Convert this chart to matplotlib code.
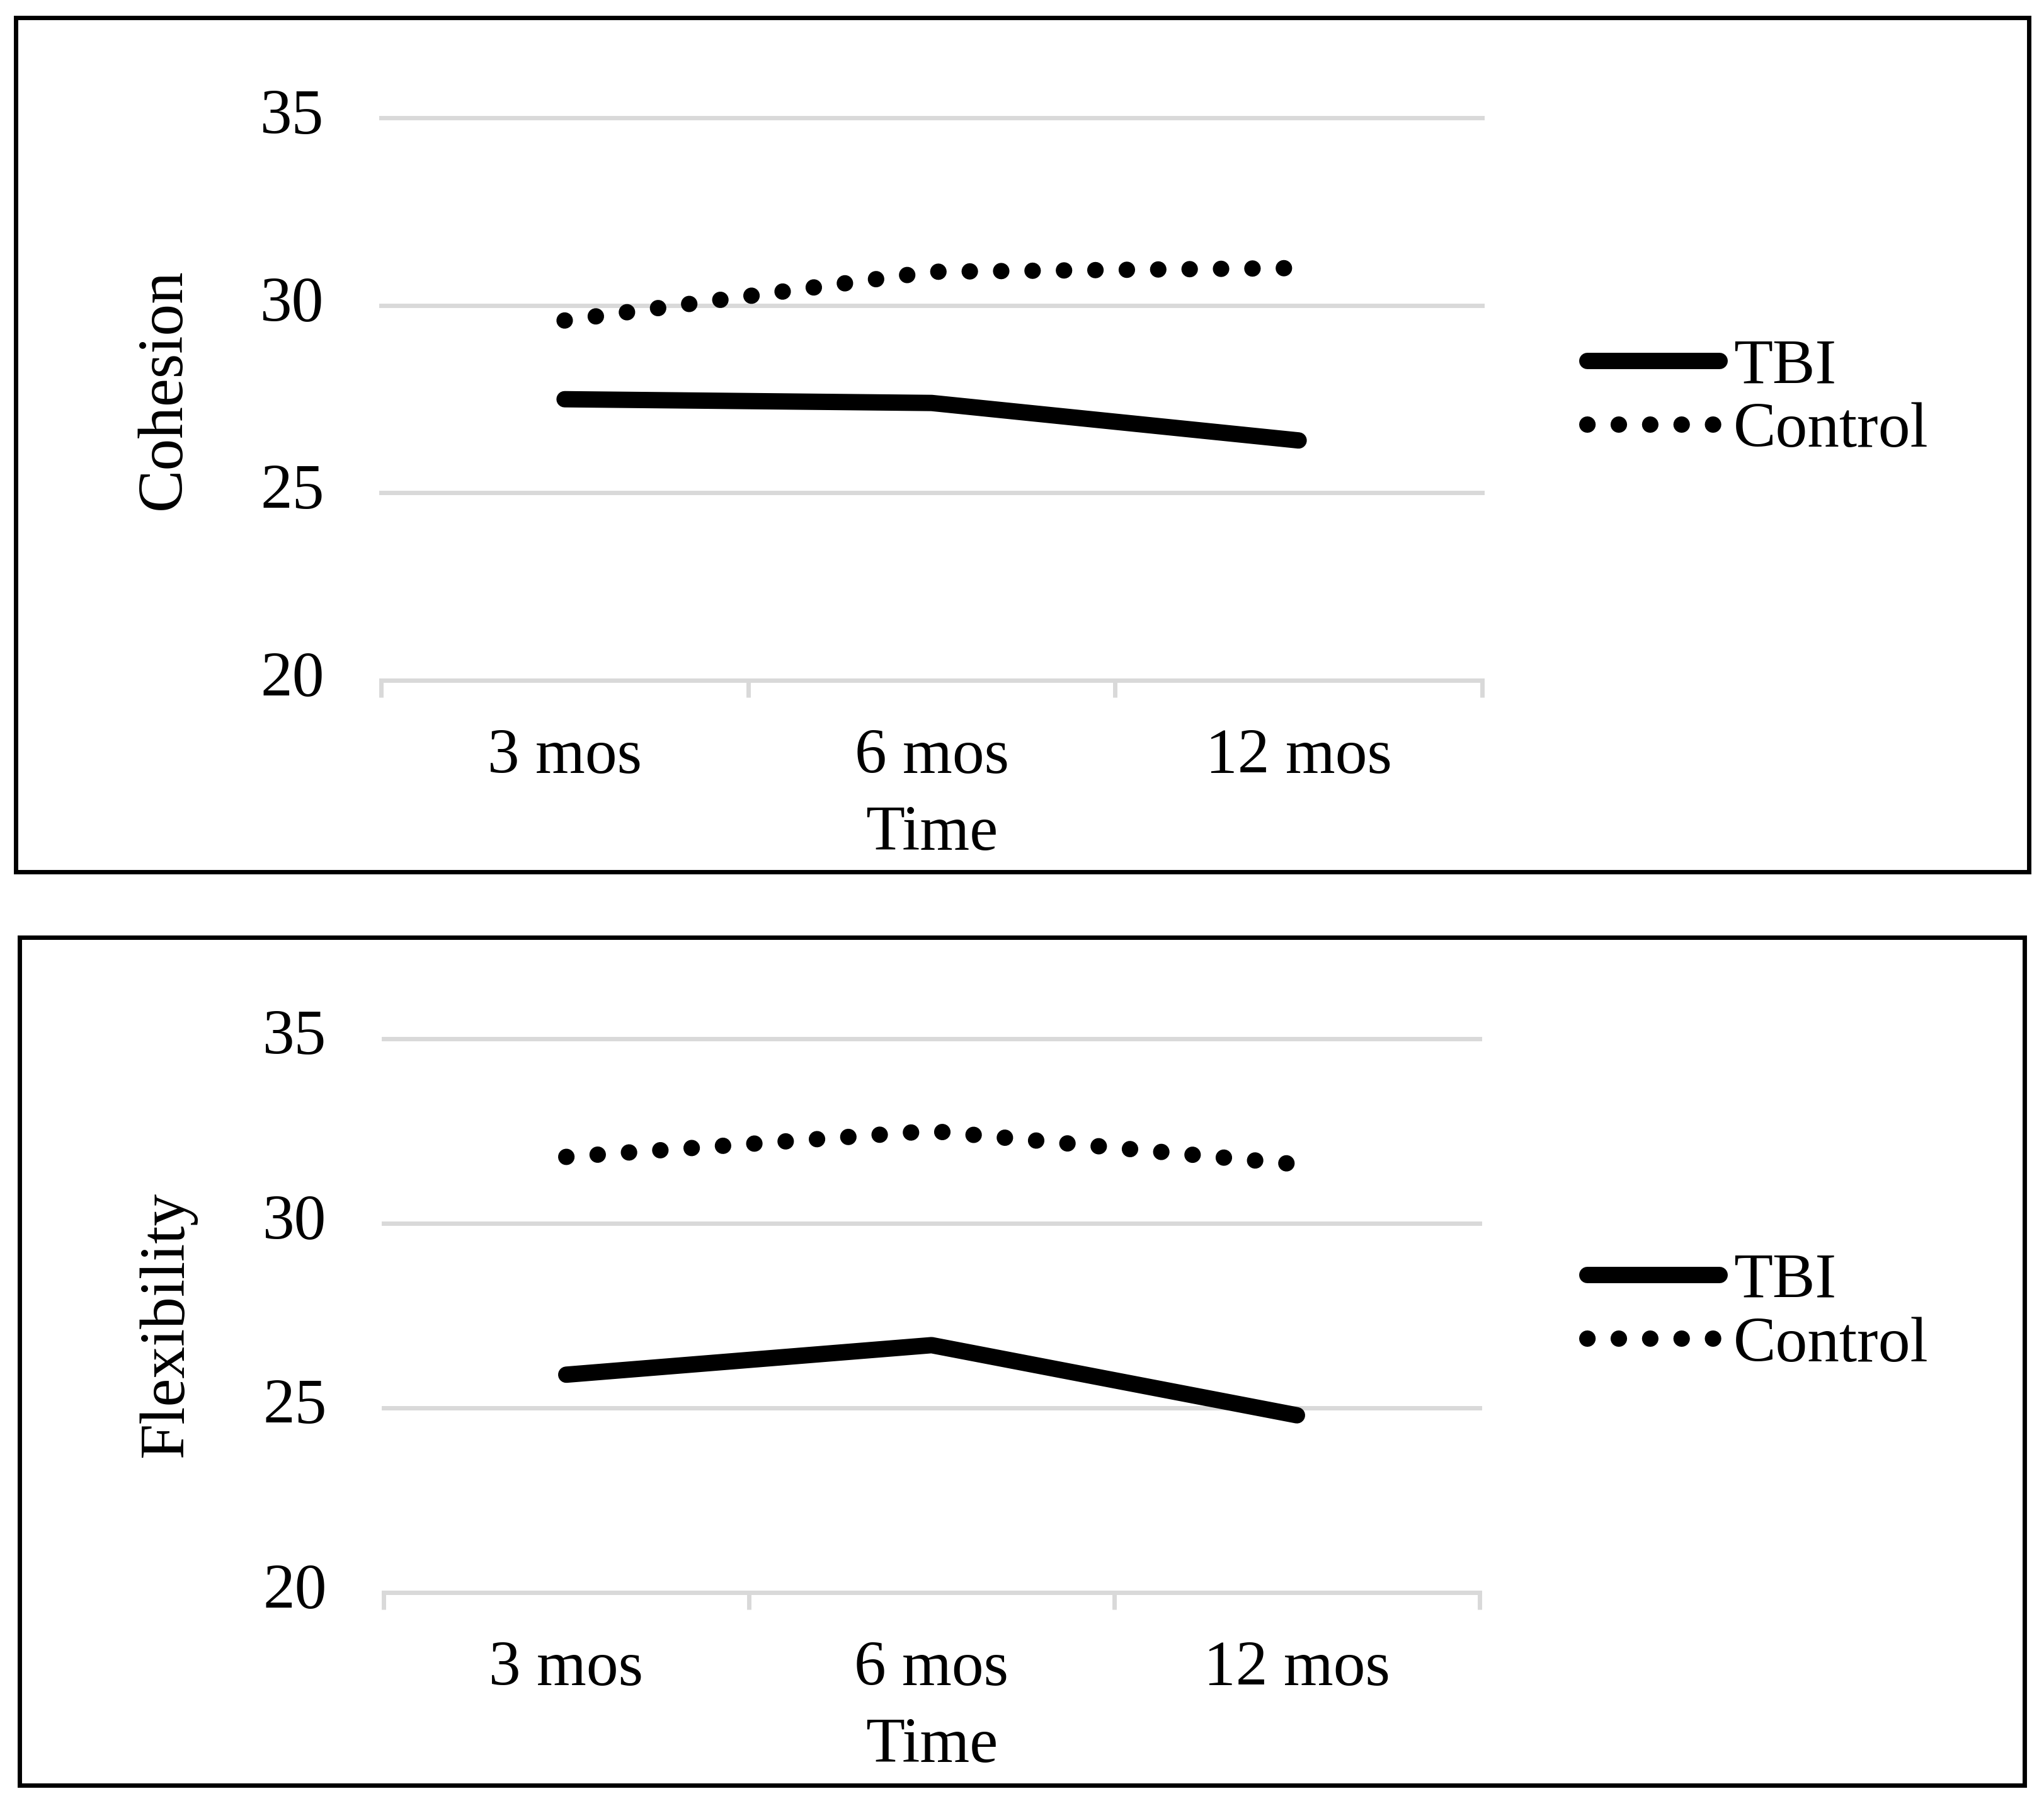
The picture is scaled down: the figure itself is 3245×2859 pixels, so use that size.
import matplotlib
matplotlib.use('Agg')
import matplotlib.pyplot as plt
from matplotlib.patches import Rectangle

# Data
times = ['3 mos', '6 mos', '12 mos']
cohesion_tbi = [27.5, 27.4, 26.4]
cohesion_control = [29.6, 30.9, 31.0]
flex_tbi = [25.9, 26.7, 24.8]
flex_control = [31.8, 32.5, 31.6]
yticks = [20, 25, 30, 35]

# Style
plt.rcParams['font.family'] = ['Liberation Serif', 'DejaVu Serif']
plt.rcParams['font.size'] = 73
grey = '#D9D9D9'
lw = 18.7

fig = plt.figure(figsize=(32.45, 28.59), dpi=100)

# outer frames around each panel
fig.patches.append(Rectangle((0.00783, 0.51592), 0.98478, 0.47440, transform=fig.transFigure,
                             fill=False, edgecolor='black', linewidth=5))
fig.patches.append(Rectangle((0.00955, 0.00874), 0.98089, 0.47079, transform=fig.transFigure,
                             fill=False, edgecolor='black', linewidth=5))

panels = [
    ([0.18644, 0.62225, 0.53868, 0.31217], 'Cohesion', cohesion_tbi, cohesion_control,
     (-0.1825, 0.5186), (0.7766, 0.7782)),
    ([0.18767, 0.11578, 0.53621, 0.30745], 'Flexibility', flex_tbi, flex_control,
     (-0.1833, 0.4835), (0.7766, 0.2704)),
]

for rect, ylabel, tbi, control, ylab_pos, leg_pos in panels:
    ax = fig.add_axes(rect)
    x = list(range(len(times)))

    # horizontal gridlines (not clipped so the top one shows fully)
    for yv in yticks[1:]:
        ax.axhline(yv, color=grey, linewidth=5, clip_on=False, zorder=1)

    ax.plot(x, tbi, color='black', linewidth=lw, solid_capstyle='round',
            solid_joinstyle='round', label='TBI', zorder=3)
    ax.plot(x, control, color='black', linewidth=lw, dashes=(0.01, 1.91),
            dash_capstyle='round', label='Control', zorder=3)

    ax.set_xlim(-0.5, 2.5)
    ax.set_ylim(20, 35)
    ax.set_yticks(yticks)
    ax.set_yticklabels([str(v) for v in yticks], va='center')
    ax.set_xticks(x)
    ax.set_xticklabels(times)
    ax.set_xticks([-0.5, 0.5, 1.5, 2.5], minor=True)

    for s in ['top', 'right', 'left']:
        ax.spines[s].set_visible(False)
    ax.spines['bottom'].set_color(grey)
    ax.spines['bottom'].set_linewidth(5)

    ax.tick_params(axis='x', which='major', length=0, pad=55)
    ax.tick_params(axis='x', which='minor', length=19.4, width=5, color=grey)
    ax.tick_params(axis='y', length=0, pad=65)

    ax.set_xlabel('Time', labelpad=21.6)
    ax.set_ylabel(ylabel, va='baseline')
    ax.yaxis.set_label_coords(*ylab_pos)

    ax.legend(loc='center left', bbox_to_anchor=leg_pos, bbox_transform=fig.transFigure,
              frameon=False, borderpad=0, borderaxespad=0, handlelength=2.07,
              handletextpad=0.22, labelspacing=0.08)

fig.savefig('out.png', dpi=100, facecolor='white')
